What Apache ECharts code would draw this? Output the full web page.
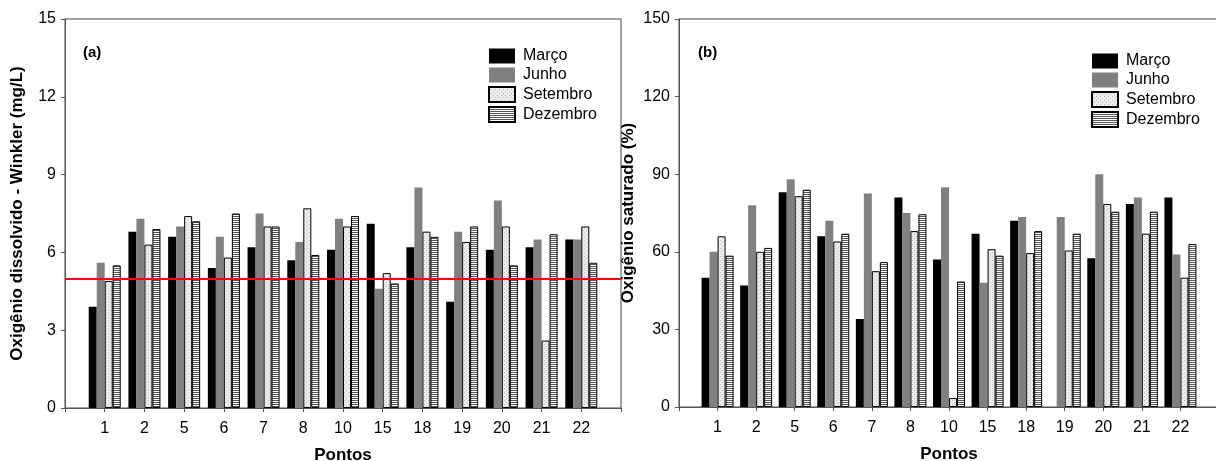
<!DOCTYPE html>
<html>
<head>
<meta charset="utf-8">
<script src="https://cdn.jsdelivr.net/npm/echarts@6/dist/echarts.min.js"></script>
<style>
    body{margin:0;background:#fff;}
    .charts{width:1216px;height:461px;}
</style>
</head>
<body>
<div class="charts"></div>
<script>
// dados
var pontos = ['1', '2', '5', '6', '7', '8', '10', '15', '18', '19', '20', '21', '22'];
var meses = ['Março', 'Junho', 'Setembro', 'Dezembro'];

// (a) oxigenio dissolvido - Winkler (mg/L)
var odMarco    = [3.9, 6.8, 6.6, 5.4, 6.2, 5.7, 6.1, 7.1, 6.2, 4.1, 6.1, 6.2, 6.5];
var odJunho    = [5.6, 7.3, 7.0, 6.6, 7.5, 6.4, 7.3, 4.6, 8.5, 6.8, 8.0, 6.5, 6.5];
var odSetembro = [4.9, 6.3, 7.4, 5.8, 7.0, 7.7, 7.0, 5.2, 6.8, 6.4, 7.0, 2.6, 7.0];
var odDezembro = [5.5, 6.9, 7.2, 7.5, 7.0, 5.9, 7.4, 4.8, 6.6, 7.0, 5.5, 6.7, 5.6];
var odLimite = 5;

// (b) oxigenio saturado (%)
var satMarco    = [50, 47, 83, 66, 34, 81, 57, 67, 72, null, 57.5, 78.5, 81];
var satJunho    = [60, 78, 88, 72, 82.5, 75, 85, 48, 73.5, 73.5, 90, 81, 59];
var satSetembro = [66, 60, 81.5, 64, 52.5, 68, 3.5, 61, 59.5, 60.5, 78.5, 67, 50];
var satDezembro = [58.5, 61.5, 84, 67, 56, 74.5, 48.5, 58.5, 68, 67, 75.5, 75.5, 63];

// ticks
var odTicks = {min: 0, max: 15, interval: 3};
var satTicks = {min: 0, max: 150, interval: 30};

// padroes das barras (pontilhado e listrado)
function padrao(w, h, desenha){
    var c = document.createElement('canvas');
    c.width = w; c.height = h;
    desenha(c.getContext('2d'));
    return {image: c, repeat: 'repeat'};
}
var pontilhado = padrao(4, 4, function(ctx){
    ctx.fillStyle = '#ececec'; ctx.fillRect(0, 0, 4, 4);
    ctx.fillStyle = '#bcbcbc';
    ctx.fillRect(0, 0, 1, 1); ctx.fillRect(2, 2, 1, 1);
});
var listrado = padrao(4, 2, function(ctx){
    ctx.fillStyle = '#ffffff'; ctx.fillRect(0, 0, 4, 2);
    ctx.fillStyle = '#555555'; ctx.fillRect(0, 0, 4, 1);
});

var estilos = [
    {color: '#000000', borderWidth: 0},
    {color: '#808080', borderWidth: 0},
    {color: pontilhado, borderColor: '#000', borderWidth: 1},
    {color: listrado, borderColor: '#000', borderWidth: 1}
];

// uma posicao vazia em cada ponta do eixo
var cats = [''].concat(pontos, ['']);
function pad(arr){ return [null].concat(arr, [null]); }

var fonte = 'Arial, "Liberation Sans", sans-serif';

function eixoX(idx){
    return {
        type: 'category', gridIndex: idx, data: cats, boundaryGap: false,
        name: 'Pontos', nameLocation: 'middle', nameGap: 39,
        nameTextStyle: {fontFamily: fonte, fontSize: 17, fontWeight: 'bold', color: '#000'},
        axisLine: {lineStyle: {color: '#555', width: 1}},
        axisTick: {show: true, length: 4, inside: false, lineStyle: {color: '#555'}},
        axisLabel: {fontFamily: fonte, fontSize: 16, color: '#000', margin: 13},
        splitLine: {show: false},
        z: idx === 0 ? 4 : 0
    };
}
function eixoY(idx, nome, t, gap){
    return {
        type: 'value', gridIndex: idx, min: t.min, max: t.max, interval: t.interval,
        name: nome, nameLocation: 'middle', nameGap: gap,
        nameTextStyle: {fontFamily: fonte, fontSize: 17, fontWeight: 'bold', color: '#000'},
        axisLine: {show: true, lineStyle: {color: '#555', width: 1}},
        axisTick: {show: true, length: 4, lineStyle: {color: '#555'}},
        axisLabel: {fontFamily: fonte, fontSize: 16, color: '#000', margin: 9},
        splitLine: {show: false},
        z: idx === 0 ? 4 : 0
    };
}

function series(idx, listas){
    return meses.map(function(m, i){
        var s = {
            name: m, type: 'bar', xAxisIndex: idx, yAxisIndex: idx,
            data: pad(listas[i]), barWidth: 8, barGap: '0%',
            itemStyle: estilos[i], z: idx === 0 ? 4 : 2,
            emphasis: {disabled: true}
        };
        return s;
    });
}

var seriesA = series(0, [odMarco, odJunho, odSetembro, odDezembro]);
seriesA[0].markLine = {
    silent: true, symbol: 'none', label: {show: false},
    lineStyle: {color: '#ff0000', width: 2, type: 'solid'},
    data: [{yAxis: odLimite}]
};
var seriesB = series(1, [satMarco, satJunho, satSetembro, satDezembro]);

var legenda = {
    orient: 'vertical', itemWidth: 26, itemHeight: 15, itemGap: 3,
    icon: 'rect', data: meses, selectedMode: false,
    textStyle: {fontFamily: fonte, fontSize: 16, color: '#000', padding: [0, 0, 0, 3]}
};

var myChart = echarts.init(document.querySelector('.charts'));
var option = {
    animation: false,
    backgroundColor: '#fff',
    title: [
        {text: '(a)', left: 78, top: 40, textStyle: {fontFamily: fonte, fontSize: 15, fontWeight: 'bold', color: '#000'}},
        {text: '(b)', left: 693, top: 40, textStyle: {fontFamily: fonte, fontSize: 15, fontWeight: 'bold', color: '#000'}}
    ],
    legend: [
        Object.assign({left: 483, top: 43}, legenda),
        Object.assign({left: 1086, top: 48}, legenda)
    ],
    grid: [
        {left: 65, top: 19, width: 556, height: 389, show: true, backgroundColor: '#fff',
         borderColor: '#444', borderWidth: 1, z: 3, outerBoundsMode: 'none'},
        {left: 679, top: 19, width: 540, height: 388, show: true, backgroundColor: 'transparent',
         borderColor: '#444', borderWidth: 1, outerBoundsMode: 'none'}
    ],
    xAxis: [eixoX(0), eixoX(1)],
    yAxis: [
        eixoY(0, 'Oxigênio dissolvido - Winkler (mg/L)', odTicks, 39),
        eixoY(1, 'Oxigênio saturado (%)', satTicks, 42)
    ],
    series: seriesA.concat(seriesB)
};
myChart.setOption(option);
</script>
</body>
</html>
